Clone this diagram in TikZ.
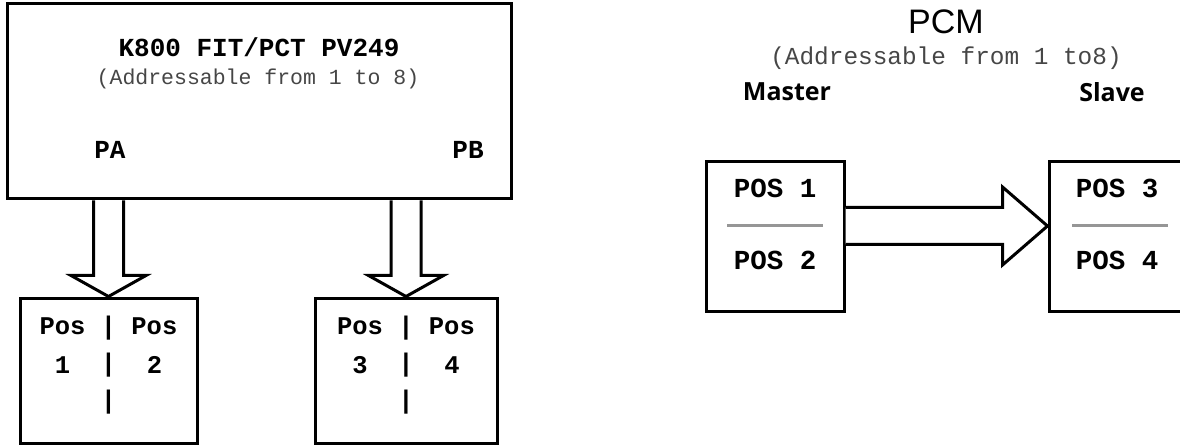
\documentclass[tikz,border=0pt]{standalone}
\usepackage{fontspec}
\setmainfont{Liberation Sans}
\setmonofont{Liberation Mono}
\newfontfamily\headsans{Open Sans}
\usetikzlibrary{calc}
\definecolor{subgray}{RGB}{70,70,70}
\definecolor{sepgray}{RGB}{150,150,150}
\begin{document}
\begin{tikzpicture}[x=1pt,y=-1pt,
  box/.style={draw=black, line width=3pt, fill=white, inner sep=0pt},
  blockarrow/.style={draw=black, line width=3pt, fill=white, line join=miter},
  sep/.style={draw=sepgray, line width=3pt},
  ttb/.style={inner sep=0pt, font=\ttfamily\bfseries\fontsize{26}{30}\selectfont},
  ttpos/.style={inner sep=0pt, font=\ttfamily\bfseries\fontsize{25.5}{30}\selectfont},
  ttbig/.style={inner sep=0pt, font=\ttfamily\bfseries\fontsize{27.5}{30}\selectfont},
  subl/.style={inner sep=0pt, text=subgray, font=\ttfamily\fontsize{21.5}{26}\selectfont},
  subr/.style={inner sep=0pt, text=subgray, font=\ttfamily\fontsize{24.4}{28}\selectfont},
  role/.style={inner sep=0pt, font=\headsans\bfseries\fontsize{25}{30}\selectfont},
]
\useasboundingbox (0,0) rectangle (1180,446);
\clip (0,0) rectangle (1180,446);

% main box
\node[box, minimum width=504, minimum height=195] (k800) at (259,101.5) {};
\node[ttb] (title) at (259,47) {K800 FIT/PCT PV249};
\node[subl] (sub1) at (258,79) {(Addressable from 1 to 8)};
\node[ttb] (pa) at (110,150) {PA};
\node[ttb] (pb) at (468,150) {PB};

% lower boxes
\node[box, minimum width=177, minimum height=145] (p12) at (108.5,370.5) {};
\node[box, minimum width=182, minimum height=145] (p34) at (406,370.5) {};

% arrows down
\path (p12.north) ++(-15,0) coordinate (a1l) ++(30,0) coordinate (a1r);
\draw[blockarrow] (a1l |- k800.south) -- ($(a1l)+(0,-21)$) -- ($(p12.north)+(-37.5,-21)$)
   -- (p12.north) -- ($(p12.north)+(37.5,-21)$) -- ($(a1r)+(0,-21)$) -- (a1r |- k800.south);
\path (p34.north) ++(-15,0) coordinate (a2l) ++(30,0) coordinate (a2r);
\draw[blockarrow] (a2l |- k800.south) -- ($(a2l)+(0,-21)$) -- ($(p34.north)+(-37.5,-21)$)
   -- (p34.north) -- ($(p34.north)+(37.5,-21)$) -- ($(a2r)+(0,-21)$) -- (a2r |- k800.south);

% texts in lower boxes
\node[ttpos] (p12a) at (108.5,328) {Pos\ |\ Pos};
\node[ttpos] (n1) at (62.5,365) {1};
\node[ttpos] (n1bar) at (108.5,365) {|};
\node[ttpos] (n2) at (154.5,365) {2};
\node[ttpos] (p12c) at (108.5,402) {|};
\node[ttpos] (p34a) at (406,328) {Pos\ |\ Pos};
\node[ttpos] (n3) at (360,365) {3};
\node[ttpos] (n3bar) at (406,365) {|};
\node[ttpos] (n4) at (452,365) {4};
\node[ttpos] (p34c) at (406,402) {|};

% PCM
\node[inner sep=0pt, font=\fontsize{34}{38}\selectfont] (pcm) at (946,22) {PCM};
\node[subr] (sub2) at (946,58) {(Addressable from 1 to8)};
\node[role] (mastertxt) at (787,92) {Master};
\node[role] (slavetxt) at (1112,92) {Slave};

\node[box, minimum width=138, minimum height=149] (master) at (775,236.5) {};
\node[box, minimum width=160, minimum height=149] (slave) at (1129,236.5) {};

\draw[sep] (727,226) coordinate (m1) -- (823,226) coordinate (m2);
\draw[sep] (1072,226) coordinate (s1) -- (1168,226) coordinate (s2);

\node[ttbig] (pos1) at (775,188) {POS 1};
\node[ttbig] (pos2) at (775,260) {POS 2};
\node[ttbig] (pos3) at (1117,188) {POS 3};
\node[ttbig] (pos4) at (1117,260) {POS 4};

% horizontal arrow
\coordinate (tip) at (slave.west |- s1);
\draw[blockarrow] ($(master.east |- tip)+(0,-18.5)$) -- ($(tip)+(-45,-18.5)$) -- ($(tip)+(-45,-39)$)
  -- (tip) -- ($(tip)+(-45,39)$) -- ($(tip)+(-45,18.5)$) -- ($(master.east |- tip)+(0,18.5)$);
\end{tikzpicture}
\end{document}
